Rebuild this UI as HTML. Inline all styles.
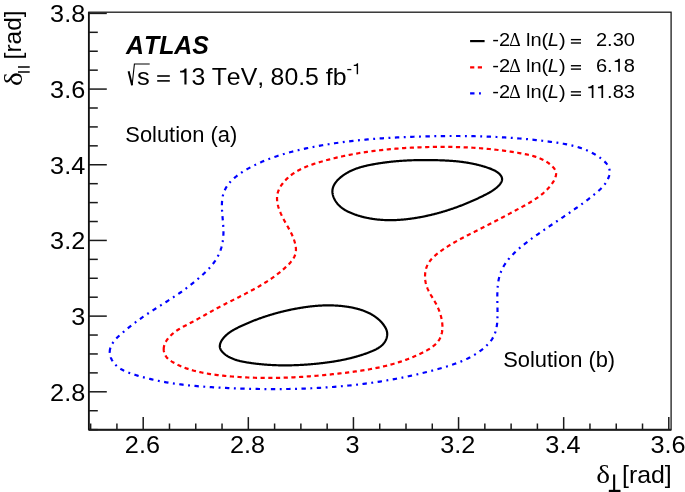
<!DOCTYPE html>
<html><head><meta charset="utf-8"><style>
html,body{margin:0;padding:0;background:#fff;width:685px;height:492px;overflow:hidden}
svg{display:block;will-change:transform}
text{font-family:"Liberation Sans",sans-serif;fill:#000;font-kerning:none}
</style></head><body>
<svg width="685" height="492" viewBox="0 0 685 492">
<rect width="685" height="492" fill="#fff"/>
<g fill="none" stroke-linejoin="round">
<path d="M109.72,351.93 L109.87,350.01 L110.28,348.13 L110.94,346.30 L111.81,344.52 L112.88,342.78 L114.12,341.08 L115.49,339.43 L116.99,337.82 L118.57,336.26 L120.22,334.73 L121.91,333.25 L123.62,331.80 L125.31,330.39 L126.98,329.02 L128.64,327.68 L130.27,326.37 L131.90,325.09 L133.52,323.84 L135.13,322.61 L136.75,321.39 L138.37,320.20 L140.00,319.02 L141.65,317.85 L143.31,316.69 L144.99,315.54 L146.68,314.39 L148.40,313.25 L150.13,312.11 L151.87,310.98 L153.62,309.85 L155.39,308.72 L157.16,307.59 L158.93,306.46 L160.71,305.34 L162.50,304.21 L164.28,303.08 L166.06,301.95 L167.84,300.81 L169.62,299.68 L171.38,298.53 L173.14,297.39 L174.89,296.23 L176.63,295.07 L178.36,293.91 L180.06,292.73 L181.76,291.55 L183.43,290.35 L185.09,289.15 L186.73,287.93 L188.36,286.70 L189.98,285.45 L191.59,284.19 L193.19,282.90 L194.78,281.60 L196.37,280.27 L197.96,278.92 L199.55,277.54 L201.13,276.13 L202.71,274.70 L204.28,273.24 L205.82,271.75 L207.33,270.24 L208.81,268.69 L210.24,267.12 L211.62,265.52 L212.93,263.89 L214.18,262.22 L215.35,260.53 L216.44,258.81 L217.45,257.06 L218.37,255.28 L219.22,253.47 L219.98,251.63 L220.66,249.77 L221.27,247.87 L221.80,245.94 L222.25,243.99 L222.63,242.01 L222.94,240.00 L223.17,237.96 L223.34,235.89 L223.43,233.80 L223.46,231.67 L223.42,229.53 L223.33,227.36 L223.20,225.17 L223.04,222.98 L222.86,220.78 L222.66,218.57 L222.47,216.37 L222.29,214.17 L222.13,211.98 L222.01,209.81 L221.92,207.66 L221.89,205.53 L221.93,203.43 L222.04,201.36 L222.23,199.33 L222.52,197.35 L222.92,195.41 L223.44,193.52 L224.08,191.69 L224.85,189.91 L225.74,188.19 L226.74,186.52 L227.86,184.91 L229.07,183.35 L230.38,181.83 L231.77,180.37 L233.24,178.95 L234.79,177.58 L236.41,176.26 L238.08,174.97 L239.81,173.73 L241.58,172.53 L243.40,171.37 L245.24,170.24 L247.11,169.15 L249.00,168.10 L250.91,167.08 L252.81,166.10 L254.73,165.14 L256.65,164.22 L258.57,163.32 L260.50,162.45 L262.43,161.61 L264.37,160.80 L266.31,160.02 L268.25,159.26 L270.20,158.52 L272.16,157.81 L274.12,157.12 L276.08,156.45 L278.05,155.80 L280.02,155.17 L282.00,154.57 L283.98,153.98 L285.96,153.40 L287.95,152.85 L289.94,152.30 L291.93,151.78 L293.93,151.27 L295.93,150.77 L297.94,150.28 L299.95,149.80 L301.96,149.34 L303.98,148.88 L306.00,148.44 L308.02,148.00 L310.05,147.58 L312.08,147.17 L314.11,146.77 L316.14,146.37 L318.18,145.99 L320.22,145.62 L322.26,145.26 L324.31,144.90 L326.36,144.56 L328.41,144.22 L330.46,143.90 L332.52,143.58 L334.58,143.27 L336.64,142.97 L338.70,142.68 L340.76,142.40 L342.83,142.12 L344.89,141.85 L346.96,141.60 L349.03,141.35 L351.11,141.10 L353.18,140.87 L355.26,140.64 L357.33,140.42 L359.41,140.21 L361.49,140.00 L363.57,139.80 L365.66,139.61 L367.74,139.42 L369.82,139.24 L371.91,139.07 L373.99,138.90 L376.08,138.74 L378.17,138.59 L380.25,138.44 L382.34,138.30 L384.43,138.16 L386.52,138.03 L388.61,137.90 L390.70,137.78 L392.79,137.66 L394.88,137.55 L396.97,137.44 L399.05,137.34 L401.14,137.24 L403.23,137.15 L405.32,137.06 L407.41,136.98 L409.50,136.90 L411.58,136.82 L413.67,136.74 L415.76,136.67 L417.84,136.61 L419.92,136.55 L422.01,136.49 L424.09,136.43 L426.17,136.37 L428.25,136.32 L430.33,136.28 L432.41,136.23 L434.49,136.19 L436.56,136.16 L438.64,136.13 L440.72,136.10 L442.79,136.07 L444.87,136.05 L446.94,136.03 L449.01,136.02 L451.09,136.01 L453.16,136.01 L455.23,136.01 L457.30,136.01 L459.38,136.02 L461.45,136.03 L463.52,136.05 L465.59,136.07 L467.66,136.10 L469.73,136.13 L471.80,136.17 L473.87,136.21 L475.94,136.25 L478.02,136.30 L480.09,136.36 L482.16,136.42 L484.23,136.49 L486.30,136.56 L488.37,136.64 L490.44,136.72 L492.51,136.81 L494.59,136.90 L496.66,137.00 L498.73,137.11 L500.81,137.22 L502.88,137.33 L504.96,137.46 L507.03,137.59 L509.11,137.72 L511.18,137.86 L513.26,138.01 L515.34,138.16 L517.42,138.32 L519.50,138.49 L521.58,138.66 L523.66,138.84 L525.74,139.03 L527.82,139.22 L529.90,139.42 L531.99,139.63 L534.08,139.84 L536.16,140.06 L538.25,140.29 L540.34,140.52 L542.43,140.77 L544.52,141.02 L546.61,141.27 L548.71,141.54 L550.80,141.81 L552.90,142.09 L554.99,142.38 L557.09,142.69 L559.17,143.02 L561.26,143.36 L563.33,143.72 L565.40,144.11 L567.46,144.52 L569.52,144.96 L571.55,145.43 L573.58,145.93 L575.59,146.47 L577.59,147.05 L579.57,147.66 L581.53,148.31 L583.48,149.01 L585.40,149.76 L587.30,150.55 L589.18,151.39 L591.03,152.29 L592.86,153.24 L594.66,154.25 L596.43,155.32 L598.17,156.45 L599.89,157.64 L601.57,158.90 L603.19,160.23 L604.73,161.64 L606.13,163.12 L607.35,164.69 L608.36,166.34 L609.11,168.08 L609.56,169.93 L609.70,171.85 L609.54,173.83 L609.14,175.80 L608.52,177.73 L607.72,179.58 L606.76,181.37 L605.64,183.10 L604.40,184.78 L603.04,186.40 L601.57,187.97 L600.03,189.49 L598.42,190.98 L596.75,192.43 L595.06,193.84 L593.34,195.23 L591.63,196.59 L589.91,197.94 L588.20,199.26 L586.49,200.56 L584.79,201.84 L583.09,203.11 L581.38,204.36 L579.69,205.59 L577.99,206.81 L576.29,208.01 L574.60,209.20 L572.91,210.39 L571.22,211.56 L569.53,212.72 L567.84,213.88 L566.15,215.02 L564.46,216.17 L562.77,217.30 L561.09,218.44 L559.40,219.57 L557.71,220.70 L556.02,221.83 L554.34,222.96 L552.65,224.10 L550.96,225.23 L549.27,226.37 L547.58,227.52 L545.88,228.67 L544.19,229.83 L542.49,230.99 L540.79,232.17 L539.09,233.36 L537.39,234.56 L535.69,235.77 L533.98,236.99 L532.27,238.23 L530.56,239.49 L528.84,240.77 L527.13,242.06 L525.43,243.37 L523.74,244.70 L522.06,246.05 L520.41,247.42 L518.78,248.82 L517.18,250.24 L515.61,251.69 L514.08,253.16 L512.60,254.66 L511.17,256.18 L509.78,257.74 L508.45,259.32 L507.19,260.94 L505.99,262.59 L504.86,264.27 L503.80,265.98 L502.83,267.73 L501.93,269.52 L501.13,271.34 L500.41,273.20 L499.79,275.09 L499.26,277.02 L498.80,278.98 L498.42,280.98 L498.10,283.00 L497.85,285.04 L497.65,287.11 L497.51,289.19 L497.41,291.30 L497.34,293.42 L497.31,295.55 L497.31,297.69 L497.33,299.84 L497.36,302.00 L497.40,304.15 L497.44,306.31 L497.48,308.47 L497.51,310.63 L497.52,312.77 L497.52,314.91 L497.48,317.04 L497.41,319.15 L497.30,321.24 L497.12,323.31 L496.88,325.35 L496.55,327.37 L496.14,329.35 L495.63,331.29 L495.01,333.19 L494.27,335.05 L493.40,336.86 L492.39,338.62 L491.23,340.33 L489.95,341.97 L488.56,343.56 L487.08,345.09 L485.54,346.56 L483.96,347.97 L482.34,349.32 L480.69,350.61 L479.01,351.85 L477.30,353.03 L475.56,354.16 L473.79,355.24 L471.99,356.28 L470.17,357.27 L468.32,358.21 L466.46,359.12 L464.57,359.99 L462.66,360.82 L460.74,361.62 L458.80,362.39 L456.85,363.13 L454.88,363.84 L452.90,364.52 L450.91,365.19 L448.92,365.83 L446.91,366.45 L444.90,367.06 L442.89,367.65 L440.87,368.24 L438.86,368.81 L436.84,369.37 L434.82,369.92 L432.80,370.47 L430.78,371.00 L428.76,371.53 L426.74,372.04 L424.71,372.55 L422.69,373.05 L420.66,373.54 L418.63,374.02 L416.60,374.49 L414.57,374.95 L412.54,375.41 L410.51,375.85 L408.48,376.29 L406.44,376.72 L404.41,377.14 L402.37,377.55 L400.33,377.95 L398.29,378.35 L396.25,378.74 L394.21,379.12 L392.17,379.49 L390.12,379.85 L388.08,380.20 L386.03,380.55 L383.98,380.89 L381.93,381.22 L379.88,381.55 L377.82,381.86 L375.77,382.17 L373.71,382.47 L371.65,382.76 L369.59,383.05 L367.53,383.33 L365.47,383.60 L363.41,383.86 L361.34,384.12 L359.28,384.37 L357.21,384.61 L355.14,384.85 L353.07,385.08 L351.00,385.30 L348.93,385.51 L346.86,385.72 L344.79,385.92 L342.71,386.12 L340.64,386.30 L338.56,386.49 L336.49,386.66 L334.41,386.83 L332.33,386.99 L330.25,387.14 L328.17,387.29 L326.09,387.44 L324.01,387.57 L321.93,387.70 L319.85,387.83 L317.76,387.94 L315.68,388.06 L313.60,388.16 L311.51,388.26 L309.43,388.35 L307.34,388.44 L305.26,388.53 L303.17,388.60 L301.08,388.67 L299.00,388.74 L296.91,388.80 L294.82,388.85 L292.74,388.90 L290.65,388.95 L288.56,388.99 L286.47,389.02 L284.38,389.05 L282.30,389.07 L280.21,389.09 L278.12,389.10 L276.03,389.11 L273.95,389.11 L271.86,389.11 L269.77,389.10 L267.68,389.09 L265.60,389.07 L263.51,389.05 L261.42,389.03 L259.34,389.00 L257.25,388.96 L255.16,388.92 L253.08,388.88 L250.99,388.83 L248.91,388.78 L246.83,388.72 L244.74,388.66 L242.66,388.60 L240.58,388.53 L238.50,388.46 L236.41,388.38 L234.33,388.30 L232.25,388.22 L230.18,388.13 L228.10,388.04 L226.02,387.94 L223.94,387.84 L221.87,387.74 L219.79,387.63 L217.72,387.52 L215.65,387.41 L213.57,387.29 L211.50,387.17 L209.43,387.04 L207.36,386.91 L205.29,386.77 L203.23,386.62 L201.16,386.46 L199.09,386.30 L197.03,386.13 L194.97,385.95 L192.90,385.76 L190.84,385.57 L188.78,385.36 L186.72,385.14 L184.66,384.91 L182.60,384.67 L180.55,384.42 L178.49,384.16 L176.44,383.88 L174.38,383.59 L172.33,383.29 L170.28,382.97 L168.23,382.64 L166.18,382.30 L164.13,381.93 L162.08,381.56 L160.03,381.16 L157.99,380.75 L155.94,380.33 L153.90,379.88 L151.85,379.42 L149.81,378.94 L147.77,378.44 L145.73,377.91 L143.69,377.37 L141.65,376.81 L139.62,376.23 L137.58,375.63 L135.55,375.01 L133.51,374.36 L131.48,373.69 L129.47,372.98 L127.48,372.23 L125.53,371.42 L123.64,370.54 L121.81,369.58 L120.05,368.53 L118.38,367.38 L116.81,366.11 L115.35,364.72 L114.01,363.20 L112.81,361.53 L111.77,359.73 L110.91,357.83 L110.27,355.88 L109.86,353.90Z" stroke="#0000ff" stroke-width="2.2" stroke-dasharray="4.4 4.5 1.9 4.5"/>
<path d="M163.69,349.20 L163.80,347.51 L164.13,345.84 L164.66,344.20 L165.38,342.59 L166.26,341.01 L167.29,339.47 L168.44,337.99 L169.69,336.56 L171.04,335.19 L172.45,333.90 L173.91,332.67 L175.41,331.53 L176.91,330.47 L178.43,329.48 L179.96,328.55 L181.50,327.67 L183.05,326.83 L184.59,326.02 L186.14,325.22 L187.69,324.43 L189.23,323.63 L190.77,322.81 L192.31,321.99 L193.85,321.16 L195.38,320.32 L196.92,319.47 L198.45,318.62 L199.98,317.76 L201.52,316.90 L203.05,316.04 L204.59,315.17 L206.13,314.31 L207.67,313.44 L209.21,312.57 L210.75,311.71 L212.30,310.85 L213.86,309.99 L215.42,309.14 L216.98,308.29 L218.55,307.46 L220.12,306.62 L221.70,305.80 L223.29,304.98 L224.87,304.16 L226.46,303.35 L228.06,302.53 L229.65,301.73 L231.25,300.92 L232.85,300.12 L234.45,299.31 L236.05,298.51 L237.65,297.70 L239.24,296.90 L240.84,296.09 L242.43,295.27 L244.03,294.46 L245.62,293.64 L247.20,292.81 L248.78,291.98 L250.36,291.14 L251.93,290.30 L253.50,289.45 L255.06,288.59 L256.61,287.72 L258.16,286.84 L259.69,285.95 L261.22,285.05 L262.74,284.14 L264.26,283.22 L265.76,282.28 L267.25,281.33 L268.73,280.36 L270.20,279.38 L271.66,278.38 L273.11,277.37 L274.54,276.34 L275.96,275.30 L277.36,274.23 L278.75,273.14 L280.13,272.04 L281.49,270.91 L282.84,269.77 L284.16,268.60 L285.47,267.41 L286.77,266.20 L288.04,264.96 L289.28,263.69 L290.46,262.39 L291.58,261.05 L292.61,259.67 L293.53,258.23 L294.34,256.74 L295.00,255.20 L295.50,253.58 L295.83,251.90 L295.97,250.14 L295.92,248.32 L295.70,246.46 L295.36,244.60 L294.92,242.76 L294.40,240.98 L293.83,239.25 L293.19,237.57 L292.51,235.93 L291.79,234.32 L291.02,232.74 L290.23,231.19 L289.40,229.64 L288.55,228.11 L287.69,226.57 L286.81,225.03 L285.93,223.47 L285.04,221.89 L284.16,220.28 L283.29,218.65 L282.45,217.00 L281.63,215.33 L280.86,213.65 L280.13,211.95 L279.46,210.24 L278.85,208.52 L278.31,206.80 L277.86,205.08 L277.49,203.36 L277.22,201.64 L277.06,199.92 L277.01,198.21 L277.09,196.52 L277.29,194.83 L277.64,193.17 L278.14,191.52 L278.77,189.90 L279.54,188.30 L280.41,186.74 L281.39,185.22 L282.45,183.74 L283.58,182.32 L284.76,180.95 L285.99,179.65 L287.26,178.40 L288.57,177.21 L289.91,176.07 L291.29,174.99 L292.70,173.96 L294.15,172.98 L295.63,172.04 L297.13,171.14 L298.66,170.29 L300.21,169.48 L301.79,168.70 L303.39,167.96 L305.01,167.25 L306.65,166.58 L308.30,165.93 L309.97,165.30 L311.65,164.71 L313.34,164.13 L315.04,163.57 L316.74,163.03 L318.45,162.50 L320.17,161.99 L321.89,161.49 L323.61,161.00 L325.33,160.52 L327.06,160.05 L328.78,159.59 L330.51,159.14 L332.24,158.70 L333.97,158.27 L335.70,157.85 L337.44,157.44 L339.17,157.04 L340.91,156.65 L342.65,156.27 L344.39,155.90 L346.14,155.54 L347.88,155.18 L349.62,154.84 L351.37,154.51 L353.12,154.18 L354.87,153.86 L356.62,153.55 L358.37,153.25 L360.12,152.96 L361.88,152.68 L363.63,152.40 L365.39,152.13 L367.15,151.87 L368.91,151.62 L370.66,151.38 L372.42,151.14 L374.19,150.91 L375.95,150.69 L377.71,150.48 L379.47,150.27 L381.24,150.07 L383.00,149.88 L384.77,149.69 L386.53,149.51 L388.30,149.34 L390.07,149.18 L391.83,149.02 L393.60,148.87 L395.37,148.72 L397.14,148.58 L398.91,148.45 L400.68,148.32 L402.45,148.20 L404.21,148.08 L405.98,147.97 L407.75,147.87 L409.52,147.77 L411.29,147.68 L413.06,147.59 L414.83,147.51 L416.60,147.43 L418.37,147.35 L420.14,147.29 L421.91,147.22 L423.68,147.17 L425.45,147.11 L427.22,147.06 L428.99,147.02 L430.76,146.98 L432.53,146.95 L434.29,146.92 L436.06,146.90 L437.83,146.88 L439.60,146.87 L441.37,146.86 L443.14,146.86 L444.90,146.87 L446.67,146.88 L448.44,146.89 L450.21,146.92 L451.98,146.94 L453.74,146.98 L455.51,147.02 L457.28,147.06 L459.05,147.12 L460.82,147.18 L462.59,147.24 L464.36,147.31 L466.12,147.39 L467.89,147.47 L469.66,147.56 L471.43,147.66 L473.20,147.77 L474.97,147.88 L476.74,148.00 L478.51,148.12 L480.28,148.25 L482.06,148.39 L483.83,148.54 L485.60,148.69 L487.37,148.85 L489.14,149.02 L490.92,149.19 L492.69,149.38 L494.46,149.57 L496.24,149.76 L498.01,149.97 L499.78,150.18 L501.56,150.40 L503.34,150.63 L505.11,150.87 L506.89,151.11 L508.67,151.37 L510.44,151.63 L512.22,151.90 L514.00,152.17 L515.78,152.46 L517.56,152.75 L519.34,153.06 L521.12,153.37 L522.90,153.69 L524.67,154.03 L526.45,154.39 L528.21,154.77 L529.96,155.18 L531.70,155.63 L533.42,156.11 L535.13,156.63 L536.82,157.19 L538.48,157.80 L540.12,158.46 L541.74,159.18 L543.33,159.96 L544.88,160.80 L546.40,161.71 L547.89,162.70 L549.34,163.76 L550.75,164.89 L552.10,166.11 L553.34,167.41 L554.41,168.77 L555.26,170.19 L555.83,171.67 L556.09,173.20 L556.05,174.76 L555.75,176.35 L555.24,177.94 L554.54,179.53 L553.68,181.10 L552.72,182.65 L551.67,184.15 L550.57,185.60 L549.43,187.00 L548.24,188.34 L547.02,189.64 L545.76,190.90 L544.46,192.11 L543.12,193.29 L541.76,194.42 L540.36,195.52 L538.94,196.59 L537.49,197.63 L536.02,198.64 L534.54,199.62 L533.03,200.58 L531.50,201.52 L529.97,202.44 L528.42,203.34 L526.86,204.23 L525.29,205.11 L523.72,205.98 L522.15,206.84 L520.58,207.69 L519.00,208.55 L517.43,209.40 L515.86,210.25 L514.29,211.09 L512.73,211.94 L511.16,212.78 L509.60,213.62 L508.03,214.46 L506.47,215.29 L504.90,216.13 L503.34,216.96 L501.78,217.79 L500.21,218.61 L498.65,219.44 L497.08,220.26 L495.52,221.08 L493.95,221.89 L492.39,222.71 L490.82,223.52 L489.25,224.33 L487.68,225.14 L486.11,225.94 L484.54,226.74 L482.96,227.54 L481.39,228.34 L479.81,229.13 L478.23,229.93 L476.65,230.72 L475.07,231.51 L473.48,232.30 L471.90,233.10 L470.32,233.89 L468.74,234.70 L467.16,235.50 L465.58,236.31 L464.01,237.13 L462.44,237.96 L460.87,238.79 L459.31,239.64 L457.75,240.50 L456.19,241.36 L454.65,242.25 L453.11,243.14 L451.57,244.05 L450.04,244.98 L448.52,245.92 L447.01,246.88 L445.51,247.86 L444.02,248.86 L442.54,249.88 L441.06,250.93 L439.60,251.99 L438.16,253.09 L436.73,254.21 L435.35,255.36 L434.01,256.56 L432.72,257.80 L431.51,259.08 L430.37,260.42 L429.33,261.82 L428.39,263.28 L427.55,264.81 L426.84,266.40 L426.25,268.06 L425.78,269.77 L425.43,271.52 L425.19,273.30 L425.06,275.10 L425.04,276.90 L425.12,278.70 L425.31,280.49 L425.59,282.25 L425.98,283.97 L426.46,285.65 L427.02,287.27 L427.66,288.86 L428.38,290.41 L429.14,291.93 L429.96,293.44 L430.81,294.94 L431.70,296.43 L432.60,297.93 L433.50,299.43 L434.40,300.96 L435.30,302.51 L436.16,304.10 L437.00,305.72 L437.79,307.40 L438.54,309.12 L439.23,310.87 L439.87,312.66 L440.45,314.47 L440.96,316.29 L441.41,318.13 L441.78,319.97 L442.07,321.81 L442.28,323.65 L442.41,325.47 L442.45,327.27 L442.39,329.04 L442.23,330.78 L441.97,332.48 L441.60,334.13 L441.12,335.73 L440.53,337.27 L439.81,338.75 L438.97,340.16 L438.01,341.49 L436.95,342.76 L435.78,343.97 L434.53,345.12 L433.19,346.22 L431.79,347.27 L430.32,348.27 L428.80,349.23 L427.24,350.15 L425.65,351.04 L424.03,351.90 L422.40,352.73 L420.76,353.53 L419.11,354.32 L417.47,355.08 L415.81,355.82 L414.16,356.54 L412.49,357.25 L410.83,357.93 L409.16,358.59 L407.48,359.23 L405.80,359.85 L404.12,360.45 L402.43,361.04 L400.74,361.61 L399.04,362.16 L397.34,362.69 L395.64,363.21 L393.93,363.71 L392.23,364.19 L390.51,364.66 L388.80,365.12 L387.08,365.56 L385.36,365.98 L383.63,366.40 L381.90,366.79 L380.17,367.18 L378.44,367.55 L376.71,367.92 L374.97,368.27 L373.23,368.61 L371.49,368.93 L369.74,369.25 L368.00,369.56 L366.25,369.86 L364.50,370.15 L362.75,370.42 L361.00,370.70 L359.24,370.96 L357.49,371.22 L355.73,371.46 L353.97,371.71 L352.21,371.94 L350.45,372.17 L348.69,372.39 L346.93,372.61 L345.17,372.83 L343.40,373.04 L341.64,373.24 L339.88,373.44 L338.11,373.64 L336.35,373.84 L334.58,374.03 L332.82,374.21 L331.05,374.40 L329.29,374.58 L327.52,374.76 L325.76,374.93 L323.99,375.10 L322.22,375.26 L320.46,375.42 L318.69,375.58 L316.92,375.73 L315.16,375.88 L313.39,376.02 L311.62,376.16 L309.85,376.29 L308.08,376.42 L306.31,376.55 L304.54,376.67 L302.78,376.78 L301.01,376.89 L299.24,377.00 L297.47,377.10 L295.70,377.19 L293.93,377.28 L292.15,377.36 L290.38,377.44 L288.61,377.51 L286.84,377.58 L285.07,377.64 L283.30,377.70 L281.53,377.75 L279.75,377.79 L277.98,377.83 L276.21,377.86 L274.44,377.89 L272.66,377.91 L270.89,377.92 L269.12,377.93 L267.34,377.93 L265.57,377.93 L263.80,377.91 L262.02,377.89 L260.25,377.87 L258.48,377.84 L256.70,377.80 L254.93,377.75 L253.15,377.70 L251.38,377.64 L249.60,377.57 L247.83,377.49 L246.05,377.41 L244.28,377.32 L242.50,377.23 L240.72,377.12 L238.95,377.01 L237.17,376.89 L235.40,376.76 L233.62,376.63 L231.84,376.48 L230.07,376.33 L228.29,376.17 L226.51,376.00 L224.74,375.83 L222.96,375.64 L221.18,375.45 L219.41,375.25 L217.63,375.04 L215.85,374.82 L214.08,374.59 L212.31,374.34 L210.54,374.08 L208.77,373.81 L207.00,373.52 L205.25,373.21 L203.49,372.89 L201.74,372.54 L200.00,372.17 L198.26,371.78 L196.53,371.37 L194.81,370.94 L193.10,370.47 L191.40,369.99 L189.70,369.47 L188.02,368.92 L186.34,368.35 L184.68,367.74 L183.03,367.10 L181.39,366.42 L179.77,365.71 L178.15,364.96 L176.56,364.18 L174.97,363.36 L173.41,362.49 L171.86,361.59 L170.36,360.62 L168.95,359.57 L167.65,358.41 L166.49,357.14 L165.52,355.72 L164.74,354.19 L164.17,352.57 L163.81,350.90Z" stroke="#ff0000" stroke-width="2.2" stroke-dasharray="4.2 3.5"/>
<path d="M332.40,191.09 L332.43,190.48 L332.48,189.88 L332.57,189.28 L332.69,188.69 L332.83,188.11 L333.00,187.53 L333.19,186.96 L333.41,186.39 L333.65,185.84 L333.92,185.28 L334.20,184.73 L334.51,184.19 L334.84,183.66 L335.19,183.13 L335.55,182.61 L335.94,182.10 L336.34,181.59 L336.75,181.10 L337.18,180.60 L337.63,180.12 L338.09,179.64 L338.56,179.18 L339.05,178.72 L339.54,178.26 L340.05,177.82 L340.56,177.38 L341.08,176.95 L341.61,176.53 L342.15,176.12 L342.69,175.72 L343.24,175.33 L343.79,174.94 L344.35,174.57 L344.90,174.20 L345.46,173.84 L346.02,173.50 L346.59,173.16 L347.15,172.83 L347.72,172.50 L348.28,172.19 L348.85,171.88 L349.42,171.59 L349.99,171.30 L350.57,171.01 L351.14,170.74 L351.72,170.47 L352.30,170.21 L352.88,169.96 L353.46,169.71 L354.04,169.48 L354.62,169.24 L355.21,169.02 L355.79,168.80 L356.38,168.58 L356.97,168.37 L357.56,168.17 L358.15,167.97 L358.74,167.78 L359.34,167.59 L359.93,167.41 L360.53,167.23 L361.13,167.06 L361.73,166.89 L362.33,166.73 L362.93,166.57 L363.53,166.41 L364.13,166.26 L364.74,166.11 L365.34,165.97 L365.95,165.83 L366.56,165.69 L367.16,165.55 L367.77,165.42 L368.38,165.29 L368.99,165.16 L369.61,165.03 L370.22,164.91 L370.83,164.79 L371.45,164.67 L372.07,164.55 L372.68,164.43 L373.30,164.32 L373.92,164.20 L374.54,164.09 L375.16,163.98 L375.78,163.88 L376.40,163.77 L377.02,163.66 L377.64,163.56 L378.27,163.46 L378.89,163.36 L379.52,163.26 L380.14,163.17 L380.77,163.07 L381.40,162.98 L382.02,162.89 L382.65,162.80 L383.28,162.71 L383.91,162.62 L384.54,162.54 L385.17,162.45 L385.80,162.37 L386.44,162.29 L387.07,162.21 L387.70,162.14 L388.33,162.06 L388.97,161.99 L389.60,161.91 L390.24,161.84 L390.87,161.77 L391.51,161.71 L392.14,161.64 L392.78,161.57 L393.42,161.51 L394.05,161.45 L394.69,161.39 L395.33,161.33 L395.97,161.27 L396.61,161.21 L397.25,161.16 L397.89,161.11 L398.52,161.05 L399.16,161.00 L399.80,160.95 L400.44,160.91 L401.08,160.86 L401.73,160.81 L402.37,160.77 L403.01,160.73 L403.65,160.69 L404.29,160.65 L404.93,160.61 L405.57,160.57 L406.21,160.54 L406.86,160.50 L407.50,160.47 L408.14,160.44 L408.78,160.41 L409.42,160.38 L410.07,160.35 L410.71,160.32 L411.35,160.30 L411.99,160.27 L412.63,160.25 L413.27,160.23 L413.92,160.21 L414.56,160.19 L415.20,160.17 L415.84,160.15 L416.48,160.13 L417.12,160.12 L417.77,160.11 L418.41,160.09 L419.05,160.08 L419.69,160.07 L420.33,160.06 L420.97,160.05 L421.61,160.05 L422.25,160.04 L422.89,160.04 L423.53,160.03 L424.16,160.03 L424.80,160.03 L425.44,160.03 L426.08,160.03 L426.72,160.03 L427.35,160.03 L427.99,160.04 L428.63,160.04 L429.26,160.05 L429.90,160.05 L430.53,160.06 L431.17,160.07 L431.80,160.08 L432.44,160.09 L433.07,160.10 L433.70,160.11 L434.34,160.13 L434.97,160.14 L435.60,160.16 L436.23,160.17 L436.86,160.19 L437.49,160.21 L438.12,160.23 L438.75,160.25 L439.37,160.27 L440.00,160.29 L440.63,160.31 L441.25,160.34 L441.88,160.36 L442.50,160.38 L443.13,160.41 L443.75,160.44 L444.37,160.47 L444.99,160.50 L445.62,160.53 L446.24,160.56 L446.86,160.59 L447.48,160.62 L448.10,160.66 L448.72,160.70 L449.34,160.74 L449.96,160.78 L450.57,160.82 L451.19,160.86 L451.81,160.90 L452.43,160.95 L453.05,161.00 L453.67,161.05 L454.28,161.10 L454.90,161.15 L455.52,161.21 L456.14,161.27 L456.75,161.33 L457.37,161.39 L457.99,161.45 L458.61,161.52 L459.23,161.59 L459.84,161.66 L460.46,161.73 L461.08,161.80 L461.70,161.88 L462.32,161.96 L462.94,162.04 L463.56,162.13 L464.18,162.22 L464.80,162.31 L465.42,162.40 L466.04,162.49 L466.66,162.59 L467.28,162.69 L467.91,162.80 L468.53,162.90 L469.15,163.01 L469.78,163.13 L470.40,163.24 L471.03,163.36 L471.66,163.49 L472.28,163.61 L472.91,163.74 L473.54,163.87 L474.17,164.01 L474.80,164.15 L475.43,164.29 L476.06,164.43 L476.70,164.58 L477.33,164.74 L477.97,164.89 L478.60,165.05 L479.24,165.22 L479.88,165.39 L480.52,165.56 L481.16,165.73 L481.80,165.91 L482.44,166.10 L483.08,166.28 L483.73,166.47 L484.38,166.67 L485.02,166.87 L485.67,167.07 L486.32,167.28 L486.97,167.50 L487.63,167.71 L488.28,167.94 L488.93,168.16 L489.57,168.40 L490.21,168.64 L490.85,168.88 L491.48,169.14 L492.11,169.40 L492.73,169.67 L493.33,169.95 L493.93,170.23 L494.52,170.53 L495.09,170.83 L495.66,171.15 L496.20,171.47 L496.74,171.81 L497.25,172.16 L497.75,172.51 L498.23,172.88 L498.69,173.27 L499.13,173.66 L499.55,174.07 L499.94,174.49 L500.32,174.93 L500.66,175.38 L500.98,175.84 L501.26,176.31 L501.51,176.78 L501.72,177.27 L501.88,177.76 L502.00,178.26 L502.07,178.75 L502.09,179.25 L502.06,179.75 L501.99,180.25 L501.87,180.75 L501.70,181.25 L501.50,181.75 L501.27,182.25 L500.99,182.74 L500.69,183.23 L500.35,183.72 L499.99,184.20 L499.60,184.68 L499.18,185.15 L498.75,185.62 L498.30,186.07 L497.83,186.53 L497.34,186.97 L496.85,187.41 L496.34,187.84 L495.83,188.25 L495.31,188.66 L494.79,189.06 L494.26,189.45 L493.73,189.83 L493.20,190.20 L492.66,190.57 L492.11,190.93 L491.56,191.27 L491.01,191.62 L490.46,191.95 L489.90,192.28 L489.34,192.61 L488.78,192.93 L488.21,193.24 L487.65,193.55 L487.08,193.85 L486.51,194.15 L485.94,194.45 L485.36,194.75 L484.79,195.04 L484.21,195.33 L483.63,195.61 L483.06,195.90 L482.48,196.18 L481.90,196.46 L481.32,196.75 L480.75,197.03 L480.17,197.30 L479.59,197.58 L479.01,197.85 L478.43,198.13 L477.85,198.40 L477.27,198.67 L476.69,198.94 L476.10,199.21 L475.52,199.47 L474.94,199.74 L474.36,200.00 L473.77,200.26 L473.19,200.52 L472.61,200.78 L472.02,201.04 L471.44,201.30 L470.85,201.55 L470.27,201.80 L469.68,202.06 L469.10,202.30 L468.51,202.55 L467.92,202.80 L467.33,203.04 L466.75,203.29 L466.16,203.53 L465.57,203.77 L464.98,204.01 L464.39,204.25 L463.80,204.48 L463.21,204.72 L462.62,204.95 L462.03,205.18 L461.44,205.41 L460.84,205.64 L460.25,205.87 L459.66,206.09 L459.07,206.32 L458.47,206.54 L457.88,206.76 L457.28,206.98 L456.69,207.19 L456.09,207.41 L455.50,207.62 L454.90,207.84 L454.30,208.05 L453.71,208.26 L453.11,208.46 L452.51,208.67 L451.91,208.87 L451.31,209.08 L450.71,209.28 L450.11,209.48 L449.51,209.67 L448.91,209.87 L448.31,210.06 L447.71,210.26 L447.11,210.45 L446.50,210.64 L445.90,210.83 L445.30,211.01 L444.69,211.20 L444.09,211.38 L443.48,211.56 L442.88,211.74 L442.27,211.92 L441.66,212.10 L441.06,212.27 L440.45,212.44 L439.84,212.62 L439.23,212.79 L438.62,212.95 L438.02,213.12 L437.41,213.28 L436.80,213.45 L436.18,213.61 L435.57,213.77 L434.96,213.93 L434.35,214.08 L433.74,214.24 L433.12,214.39 L432.51,214.54 L431.89,214.69 L431.28,214.84 L430.66,214.98 L430.05,215.13 L429.43,215.27 L428.82,215.41 L428.20,215.55 L427.58,215.69 L426.96,215.82 L426.34,215.95 L425.72,216.09 L425.10,216.22 L424.48,216.35 L423.86,216.47 L423.24,216.60 L422.62,216.72 L422.00,216.84 L421.37,216.96 L420.75,217.08 L420.13,217.19 L419.50,217.31 L418.88,217.42 L418.25,217.53 L417.63,217.64 L417.00,217.75 L416.37,217.85 L415.75,217.95 L415.12,218.05 L414.49,218.15 L413.86,218.25 L413.23,218.35 L412.60,218.44 L411.97,218.53 L411.34,218.62 L410.71,218.70 L410.08,218.79 L409.45,218.87 L408.82,218.95 L408.19,219.03 L407.55,219.10 L406.92,219.17 L406.29,219.24 L405.66,219.31 L405.02,219.38 L404.39,219.44 L403.76,219.50 L403.12,219.56 L402.49,219.61 L401.86,219.67 L401.22,219.72 L400.59,219.77 L399.95,219.81 L399.32,219.85 L398.68,219.89 L398.05,219.93 L397.42,219.97 L396.78,220.00 L396.15,220.03 L395.51,220.05 L394.88,220.08 L394.24,220.10 L393.61,220.12 L392.97,220.13 L392.34,220.14 L391.70,220.15 L391.07,220.16 L390.43,220.16 L389.80,220.16 L389.17,220.16 L388.53,220.15 L387.90,220.14 L387.26,220.13 L386.63,220.11 L386.00,220.09 L385.36,220.07 L384.73,220.05 L384.10,220.02 L383.46,219.99 L382.83,219.95 L382.20,219.91 L381.57,219.87 L380.93,219.82 L380.30,219.77 L379.67,219.72 L379.04,219.67 L378.41,219.61 L377.78,219.54 L377.15,219.48 L376.52,219.41 L375.89,219.33 L375.26,219.26 L374.64,219.18 L374.01,219.09 L373.38,219.00 L372.75,218.91 L372.13,218.81 L371.50,218.71 L370.87,218.61 L370.25,218.50 L369.63,218.39 L369.00,218.28 L368.38,218.16 L367.75,218.03 L367.13,217.91 L366.51,217.77 L365.89,217.64 L365.27,217.50 L364.65,217.36 L364.03,217.21 L363.41,217.06 L362.79,216.90 L362.17,216.74 L361.56,216.58 L360.94,216.41 L360.33,216.23 L359.71,216.06 L359.10,215.88 L358.48,215.69 L357.87,215.50 L357.26,215.30 L356.65,215.11 L356.04,214.90 L355.43,214.69 L354.82,214.48 L354.21,214.26 L353.61,214.04 L353.00,213.81 L352.40,213.58 L351.80,213.34 L351.21,213.10 L350.61,212.85 L350.02,212.59 L349.44,212.32 L348.85,212.05 L348.27,211.78 L347.70,211.49 L347.13,211.20 L346.57,210.90 L346.01,210.59 L345.45,210.27 L344.91,209.95 L344.37,209.61 L343.83,209.27 L343.31,208.92 L342.79,208.56 L342.28,208.19 L341.77,207.81 L341.28,207.42 L340.79,207.02 L340.31,206.61 L339.84,206.19 L339.38,205.75 L338.93,205.31 L338.49,204.86 L338.06,204.39 L337.64,203.91 L337.23,203.42 L336.84,202.92 L336.45,202.40 L336.08,201.88 L335.72,201.34 L335.37,200.78 L335.04,200.22 L334.72,199.64 L334.41,199.06 L334.13,198.47 L333.86,197.87 L333.61,197.26 L333.38,196.65 L333.17,196.03 L332.99,195.41 L332.83,194.79 L332.69,194.17 L332.58,193.55 L332.49,192.93 L332.43,192.31 L332.40,191.70Z" stroke="#000" stroke-width="2.2"/>
<path d="M219.93,347.54 L219.84,347.00 L219.80,346.44 L219.81,345.88 L219.86,345.31 L219.95,344.74 L220.08,344.16 L220.24,343.58 L220.44,343.00 L220.68,342.43 L220.94,341.86 L221.23,341.29 L221.55,340.73 L221.89,340.17 L222.25,339.63 L222.64,339.09 L223.04,338.56 L223.46,338.03 L223.90,337.52 L224.35,337.02 L224.81,336.53 L225.28,336.05 L225.76,335.59 L226.24,335.14 L226.73,334.70 L227.23,334.27 L227.73,333.86 L228.23,333.45 L228.74,333.06 L229.26,332.68 L229.77,332.31 L230.29,331.95 L230.82,331.60 L231.35,331.26 L231.88,330.92 L232.42,330.59 L232.95,330.27 L233.50,329.96 L234.04,329.65 L234.59,329.35 L235.14,329.05 L235.69,328.76 L236.24,328.48 L236.80,328.19 L237.35,327.91 L237.91,327.63 L238.47,327.36 L239.03,327.09 L239.60,326.81 L240.16,326.54 L240.72,326.28 L241.29,326.01 L241.86,325.74 L242.42,325.48 L242.99,325.22 L243.56,324.96 L244.13,324.70 L244.70,324.44 L245.28,324.19 L245.85,323.94 L246.43,323.68 L247.00,323.43 L247.58,323.19 L248.16,322.94 L248.73,322.69 L249.31,322.45 L249.89,322.21 L250.48,321.97 L251.06,321.73 L251.64,321.49 L252.22,321.26 L252.81,321.03 L253.40,320.79 L253.98,320.56 L254.57,320.34 L255.16,320.11 L255.75,319.88 L256.34,319.66 L256.93,319.44 L257.52,319.22 L258.11,319.00 L258.70,318.78 L259.30,318.57 L259.89,318.35 L260.48,318.14 L261.08,317.93 L261.68,317.72 L262.27,317.52 L262.87,317.31 L263.47,317.11 L264.07,316.91 L264.67,316.71 L265.27,316.51 L265.87,316.31 L266.47,316.12 L267.07,315.92 L267.67,315.73 L268.28,315.54 L268.88,315.35 L269.48,315.16 L270.09,314.98 L270.69,314.79 L271.30,314.61 L271.90,314.43 L272.51,314.25 L273.12,314.08 L273.72,313.90 L274.33,313.73 L274.94,313.56 L275.55,313.39 L276.16,313.22 L276.77,313.05 L277.38,312.88 L277.99,312.72 L278.60,312.56 L279.21,312.40 L279.82,312.24 L280.43,312.08 L281.04,311.93 L281.65,311.77 L282.26,311.62 L282.88,311.47 L283.49,311.32 L284.10,311.18 L284.72,311.03 L285.33,310.89 L285.94,310.74 L286.56,310.60 L287.17,310.47 L287.78,310.33 L288.40,310.19 L289.01,310.06 L289.63,309.93 L290.24,309.80 L290.86,309.67 L291.47,309.54 L292.09,309.41 L292.70,309.29 L293.32,309.17 L293.93,309.05 L294.55,308.93 L295.16,308.81 L295.78,308.70 L296.39,308.58 L297.01,308.47 L297.63,308.36 L298.24,308.25 L298.86,308.14 L299.47,308.04 L300.09,307.93 L300.70,307.83 L301.32,307.73 L301.93,307.63 L302.55,307.54 L303.16,307.44 L303.78,307.35 L304.39,307.26 L305.01,307.17 L305.62,307.08 L306.23,306.99 L306.85,306.91 L307.46,306.82 L308.08,306.74 L308.69,306.67 L309.31,306.59 L309.92,306.52 L310.54,306.44 L311.15,306.37 L311.77,306.31 L312.39,306.24 L313.00,306.18 L313.62,306.11 L314.23,306.06 L314.85,306.00 L315.47,305.94 L316.08,305.89 L316.70,305.84 L317.31,305.79 L317.93,305.75 L318.55,305.70 L319.17,305.66 L319.78,305.63 L320.40,305.59 L321.02,305.56 L321.64,305.53 L322.26,305.50 L322.87,305.47 L323.49,305.45 L324.11,305.43 L324.73,305.41 L325.35,305.40 L325.97,305.38 L326.59,305.37 L327.21,305.37 L327.84,305.36 L328.46,305.36 L329.08,305.36 L329.70,305.37 L330.33,305.38 L330.95,305.39 L331.57,305.40 L332.20,305.41 L332.82,305.43 L333.45,305.46 L334.07,305.48 L334.70,305.51 L335.32,305.54 L335.95,305.57 L336.58,305.61 L337.20,305.65 L337.83,305.70 L338.46,305.74 L339.09,305.79 L339.72,305.85 L340.35,305.90 L340.98,305.96 L341.61,306.03 L342.25,306.09 L342.88,306.16 L343.51,306.24 L344.15,306.31 L344.78,306.39 L345.41,306.48 L346.05,306.57 L346.69,306.66 L347.32,306.75 L347.96,306.85 L348.60,306.95 L349.23,307.06 L349.87,307.17 L350.50,307.28 L351.14,307.40 L351.78,307.52 L352.41,307.65 L353.04,307.78 L353.68,307.92 L354.31,308.06 L354.94,308.20 L355.57,308.35 L356.19,308.51 L356.82,308.67 L357.44,308.83 L358.07,309.00 L358.69,309.17 L359.30,309.35 L359.92,309.54 L360.53,309.73 L361.15,309.92 L361.75,310.12 L362.36,310.33 L362.96,310.54 L363.56,310.76 L364.16,310.98 L364.76,311.21 L365.35,311.45 L365.93,311.69 L366.52,311.94 L367.10,312.19 L367.67,312.45 L368.25,312.71 L368.81,312.99 L369.38,313.26 L369.94,313.55 L370.49,313.84 L371.04,314.14 L371.59,314.44 L372.13,314.76 L372.67,315.08 L373.20,315.40 L373.72,315.73 L374.24,316.07 L374.76,316.42 L375.27,316.78 L375.77,317.14 L376.27,317.51 L376.76,317.88 L377.25,318.27 L377.73,318.66 L378.20,319.06 L378.67,319.47 L379.13,319.88 L379.58,320.31 L380.03,320.74 L380.47,321.18 L380.90,321.63 L381.32,322.08 L381.74,322.55 L382.15,323.02 L382.55,323.50 L382.95,323.99 L383.34,324.49 L383.72,325.00 L384.08,325.51 L384.44,326.04 L384.78,326.57 L385.11,327.11 L385.42,327.65 L385.71,328.21 L385.98,328.77 L386.23,329.34 L386.45,329.91 L386.65,330.49 L386.82,331.08 L386.97,331.67 L387.08,332.27 L387.16,332.87 L387.20,333.48 L387.22,334.09 L387.20,334.70 L387.15,335.31 L387.08,335.92 L386.98,336.53 L386.85,337.13 L386.70,337.73 L386.52,338.32 L386.32,338.90 L386.09,339.47 L385.85,340.03 L385.58,340.58 L385.30,341.11 L384.99,341.63 L384.67,342.13 L384.33,342.62 L383.97,343.09 L383.60,343.56 L383.21,344.00 L382.80,344.44 L382.38,344.87 L381.95,345.28 L381.50,345.68 L381.04,346.07 L380.57,346.45 L380.08,346.82 L379.58,347.18 L379.08,347.53 L378.56,347.87 L378.03,348.20 L377.49,348.52 L376.94,348.83 L376.39,349.14 L375.82,349.44 L375.25,349.73 L374.68,350.01 L374.09,350.29 L373.51,350.56 L372.91,350.82 L372.32,351.08 L371.71,351.33 L371.11,351.58 L370.50,351.83 L369.89,352.07 L369.28,352.30 L368.67,352.53 L368.06,352.76 L367.44,352.99 L366.83,353.21 L366.22,353.43 L365.60,353.65 L364.99,353.87 L364.38,354.08 L363.76,354.29 L363.15,354.49 L362.53,354.70 L361.92,354.90 L361.31,355.10 L360.69,355.29 L360.08,355.48 L359.46,355.67 L358.85,355.86 L358.23,356.04 L357.62,356.23 L357.00,356.41 L356.39,356.58 L355.77,356.76 L355.16,356.93 L354.54,357.10 L353.92,357.26 L353.31,357.43 L352.69,357.59 L352.08,357.75 L351.46,357.91 L350.84,358.06 L350.23,358.21 L349.61,358.36 L348.99,358.51 L348.38,358.66 L347.76,358.80 L347.14,358.94 L346.53,359.08 L345.91,359.22 L345.29,359.35 L344.68,359.49 L344.06,359.62 L343.44,359.75 L342.83,359.87 L342.21,360.00 L341.59,360.12 L340.97,360.24 L340.36,360.36 L339.74,360.48 L339.12,360.59 L338.51,360.70 L337.89,360.82 L337.27,360.93 L336.65,361.03 L336.04,361.14 L335.42,361.24 L334.80,361.35 L334.18,361.45 L333.57,361.55 L332.95,361.64 L332.33,361.74 L331.71,361.83 L331.10,361.92 L330.48,362.02 L329.86,362.11 L329.25,362.19 L328.63,362.28 L328.01,362.36 L327.39,362.45 L326.78,362.53 L326.16,362.61 L325.54,362.69 L324.92,362.77 L324.31,362.84 L323.69,362.92 L323.07,362.99 L322.46,363.07 L321.84,363.14 L321.22,363.21 L320.61,363.28 L319.99,363.35 L319.37,363.41 L318.76,363.48 L318.14,363.54 L317.52,363.61 L316.91,363.67 L316.29,363.73 L315.67,363.79 L315.06,363.85 L314.44,363.91 L313.83,363.97 L313.21,364.02 L312.59,364.08 L311.98,364.13 L311.36,364.19 L310.75,364.24 L310.13,364.29 L309.52,364.34 L308.90,364.39 L308.28,364.44 L307.67,364.49 L307.05,364.53 L306.44,364.58 L305.82,364.62 L305.20,364.66 L304.59,364.70 L303.97,364.74 L303.36,364.78 L302.74,364.82 L302.12,364.86 L301.51,364.89 L300.89,364.93 L300.27,364.96 L299.66,364.99 L299.04,365.02 L298.42,365.05 L297.81,365.08 L297.19,365.11 L296.57,365.13 L295.95,365.16 L295.34,365.18 L294.72,365.20 L294.10,365.22 L293.48,365.24 L292.86,365.26 L292.24,365.27 L291.62,365.29 L291.01,365.30 L290.39,365.32 L289.77,365.33 L289.15,365.34 L288.53,365.34 L287.90,365.35 L287.28,365.36 L286.66,365.36 L286.04,365.36 L285.42,365.36 L284.80,365.36 L284.17,365.36 L283.55,365.36 L282.93,365.35 L282.31,365.35 L281.68,365.34 L281.06,365.33 L280.43,365.32 L279.81,365.31 L279.18,365.30 L278.56,365.28 L277.93,365.26 L277.30,365.25 L276.68,365.23 L276.05,365.20 L275.42,365.18 L274.79,365.16 L274.17,365.13 L273.54,365.10 L272.91,365.07 L272.28,365.04 L271.65,365.01 L271.02,364.98 L270.38,364.94 L269.75,364.90 L269.12,364.86 L268.49,364.82 L267.85,364.78 L267.22,364.74 L266.58,364.69 L265.95,364.64 L265.31,364.59 L264.68,364.54 L264.04,364.49 L263.40,364.43 L262.76,364.38 L262.12,364.32 L261.49,364.26 L260.85,364.20 L260.20,364.13 L259.56,364.07 L258.92,364.00 L258.28,363.93 L257.64,363.86 L256.99,363.79 L256.35,363.72 L255.70,363.64 L255.06,363.56 L254.41,363.48 L253.76,363.40 L253.11,363.32 L252.47,363.23 L251.82,363.14 L251.17,363.05 L250.52,362.96 L249.86,362.87 L249.21,362.77 L248.56,362.67 L247.91,362.57 L247.26,362.47 L246.60,362.36 L245.95,362.25 L245.30,362.14 L244.65,362.02 L244.01,361.90 L243.36,361.78 L242.72,361.65 L242.08,361.52 L241.44,361.38 L240.80,361.23 L240.17,361.09 L239.54,360.93 L238.91,360.77 L238.29,360.61 L237.67,360.44 L237.05,360.26 L236.44,360.08 L235.84,359.89 L235.23,359.69 L234.64,359.49 L234.05,359.28 L233.46,359.06 L232.88,358.83 L232.31,358.60 L231.74,358.36 L231.18,358.11 L230.62,357.85 L230.08,357.58 L229.54,357.31 L229.00,357.02 L228.48,356.73 L227.96,356.42 L227.45,356.11 L226.95,355.79 L226.46,355.45 L225.97,355.11 L225.50,354.76 L225.03,354.39 L224.58,354.02 L224.13,353.63 L223.70,353.23 L223.27,352.82 L222.86,352.40 L222.45,351.97 L222.06,351.52 L221.69,351.06 L221.34,350.59 L221.02,350.11 L220.73,349.62 L220.47,349.12 L220.25,348.60 L220.07,348.08Z" stroke="#000" stroke-width="2.2"/>
</g>
<g stroke="#1a1a1a" stroke-width="1.5" fill="none">
<rect x="88.8" y="12.2" width="582.3" height="417.6" stroke-width="1.3"/>
<line x1="88.8" y1="429.8" x2="671.1" y2="429.8" stroke-width="2"/>
<line x1="88.8" y1="12.2" x2="88.8" y2="429.8" stroke-width="1.7" stroke="#111"/>
<line x1="90.64" y1="429.80" x2="90.64" y2="423.50"/>
<line x1="116.92" y1="429.80" x2="116.92" y2="423.50"/>
<line x1="143.20" y1="429.80" x2="143.20" y2="417.10"/>
<line x1="169.48" y1="429.80" x2="169.48" y2="423.50"/>
<line x1="195.76" y1="429.80" x2="195.76" y2="423.50"/>
<line x1="222.04" y1="429.80" x2="222.04" y2="423.50"/>
<line x1="248.32" y1="429.80" x2="248.32" y2="417.10"/>
<line x1="274.60" y1="429.80" x2="274.60" y2="423.50"/>
<line x1="300.88" y1="429.80" x2="300.88" y2="423.50"/>
<line x1="327.16" y1="429.80" x2="327.16" y2="423.50"/>
<line x1="353.44" y1="429.80" x2="353.44" y2="417.10"/>
<line x1="379.72" y1="429.80" x2="379.72" y2="423.50"/>
<line x1="406.00" y1="429.80" x2="406.00" y2="423.50"/>
<line x1="432.28" y1="429.80" x2="432.28" y2="423.50"/>
<line x1="458.56" y1="429.80" x2="458.56" y2="417.10"/>
<line x1="484.84" y1="429.80" x2="484.84" y2="423.50"/>
<line x1="511.12" y1="429.80" x2="511.12" y2="423.50"/>
<line x1="537.40" y1="429.80" x2="537.40" y2="423.50"/>
<line x1="563.68" y1="429.80" x2="563.68" y2="417.10"/>
<line x1="589.96" y1="429.80" x2="589.96" y2="423.50"/>
<line x1="616.24" y1="429.80" x2="616.24" y2="423.50"/>
<line x1="642.52" y1="429.80" x2="642.52" y2="423.50"/>
<line x1="668.80" y1="429.80" x2="668.80" y2="417.10"/>
<line x1="88.80" y1="429.64" x2="97.80" y2="429.64"/>
<line x1="88.80" y1="410.72" x2="97.80" y2="410.72"/>
<line x1="88.80" y1="391.80" x2="106.80" y2="391.80"/>
<line x1="88.80" y1="372.88" x2="97.80" y2="372.88"/>
<line x1="88.80" y1="353.96" x2="97.80" y2="353.96"/>
<line x1="88.80" y1="335.04" x2="97.80" y2="335.04"/>
<line x1="88.80" y1="316.12" x2="106.80" y2="316.12"/>
<line x1="88.80" y1="297.20" x2="97.80" y2="297.20"/>
<line x1="88.80" y1="278.28" x2="97.80" y2="278.28"/>
<line x1="88.80" y1="259.36" x2="97.80" y2="259.36"/>
<line x1="88.80" y1="240.44" x2="106.80" y2="240.44"/>
<line x1="88.80" y1="221.52" x2="97.80" y2="221.52"/>
<line x1="88.80" y1="202.60" x2="97.80" y2="202.60"/>
<line x1="88.80" y1="183.68" x2="97.80" y2="183.68"/>
<line x1="88.80" y1="164.76" x2="106.80" y2="164.76"/>
<line x1="88.80" y1="145.84" x2="97.80" y2="145.84"/>
<line x1="88.80" y1="126.92" x2="97.80" y2="126.92"/>
<line x1="88.80" y1="108.00" x2="97.80" y2="108.00"/>
<line x1="88.80" y1="89.08" x2="106.80" y2="89.08"/>
<line x1="88.80" y1="70.16" x2="97.80" y2="70.16"/>
<line x1="88.80" y1="51.24" x2="97.80" y2="51.24"/>
<line x1="88.80" y1="32.32" x2="97.80" y2="32.32"/>
<line x1="88.80" y1="13.40" x2="106.80" y2="13.40"/>
</g>
<text transform="translate(142.40,452.80) scale(1.075,1)" font-size="23.50" text-anchor="middle">2.6</text><text transform="translate(247.52,452.80) scale(1.075,1)" font-size="23.50" text-anchor="middle">2.8</text><text transform="translate(352.64,452.80) scale(1.075,1)" font-size="23.50" text-anchor="middle">3</text><text transform="translate(457.76,452.80) scale(1.075,1)" font-size="23.50" text-anchor="middle">3.2</text><text transform="translate(562.88,452.80) scale(1.075,1)" font-size="23.50" text-anchor="middle">3.4</text><text transform="translate(668.00,452.80) scale(1.075,1)" font-size="23.50" text-anchor="middle">3.6</text>
<text transform="translate(85.20,400.70) scale(1.075,1)" font-size="23.50" text-anchor="end">2.8</text><text transform="translate(85.20,325.02) scale(1.075,1)" font-size="23.50" text-anchor="end">3</text><text transform="translate(85.20,249.34) scale(1.075,1)" font-size="23.50" text-anchor="end">3.2</text><text transform="translate(85.20,173.66) scale(1.075,1)" font-size="23.50" text-anchor="end">3.4</text><text transform="translate(85.20,97.98) scale(1.075,1)" font-size="23.50" text-anchor="end">3.6</text><text transform="translate(85.20,22.30) scale(1.075,1)" font-size="23.50" text-anchor="end">3.8</text>
<text transform="translate(126.00,53.60) scale(0.995,1)" font-size="25.00" style="font-weight:bold;font-style:italic">ATLAS</text>
<path d="M128.6,71.3 L132.1,85.3" stroke="#000" stroke-width="2" fill="none"/>
<path d="M132.1,85.3 L134.4,64.0 L149.7,64.0" stroke="#000" stroke-width="1.1" fill="none"/>
<text transform="translate(137.00,85.00) scale(1.080,1)" font-size="23.60">s</text>
<rect x="157.20" y="75.20" width="12.60" height="1.60"/><rect x="157.20" y="80.10" width="12.60" height="1.60"/>
<path transform="translate(177.60,84.60) scale(24.840,23.000)" d="M0.359,0 L0.359,-0.703 L0.29,-0.703 C0.27,-0.64 0.2,-0.605 0.101,-0.60 L0.101,-0.525 L0.274,-0.525 L0.274,0 Z" fill="#000"/><text transform="translate(191.41,84.60) scale(1.080,1)" font-size="23.00">3</text>
<text transform="translate(211.70,84.60) scale(1.080,1)" font-size="23.00">TeV,</text>
<text transform="translate(270.60,84.60) scale(1.080,1)" font-size="23.00">80.5</text>
<text transform="translate(325.80,84.60) scale(1.080,1)" font-size="23.00">fb</text>
<text transform="translate(346.50,74.30) scale(1.060,1)" font-size="15.80">-</text><path transform="translate(352.08,74.30) scale(16.748,15.800)" d="M0.359,0 L0.359,-0.703 L0.29,-0.703 C0.27,-0.64 0.2,-0.605 0.101,-0.60 L0.101,-0.525 L0.274,-0.525 L0.274,0 Z" fill="#000"/>
<text transform="translate(125.30,141.80) scale(1.028,1)" font-size="21.30">Solution (a)</text>
<text transform="translate(503.20,366.80) scale(1.028,1)" font-size="21.30">Solution (b)</text>
<g stroke-width="2.2" fill="none"><line x1="470.1" y1="41.1" x2="484.6" y2="41.1" stroke="#000"/><line x1="470.1" y1="67.4" x2="484.6" y2="67.4" stroke="#f00" stroke-dasharray="4.2 3.5"/><line x1="470.1" y1="93.3" x2="484.6" y2="93.3" stroke="#00f" stroke-dasharray="4.4 4.5 1.9 4.5"/></g>
<text transform="translate(492.20,45.70) scale(1.085,1)" font-size="18.50">-2</text>
<text transform="translate(509.20,45.70) scale(0.980,1)" font-size="18.20" style="font-family:'Liberation Serif',serif">&#916;</text>
<text transform="translate(526.00,45.70) scale(1.085,1)" font-size="18.50">ln(</text>
<text transform="translate(547.80,45.70) scale(1.085,1)" font-size="18.50" style="font-style:italic">L</text>
<text transform="translate(559.00,45.70) scale(1.085,1)" font-size="18.50">)</text>
<rect x="570.90" y="38.95" width="10.10" height="1.40"/><rect x="570.90" y="42.30" width="10.10" height="1.40"/>
<text transform="translate(595.94,45.70) scale(1.085,1)" font-size="18.50">2</text><text transform="translate(607.10,45.70) scale(1.085,1)" font-size="18.50">.</text><text transform="translate(612.68,45.70) scale(1.085,1)" font-size="18.50">3</text><text transform="translate(623.84,45.70) scale(1.085,1)" font-size="18.50">0</text>
<text transform="translate(492.20,71.80) scale(1.085,1)" font-size="18.50">-2</text>
<text transform="translate(509.20,71.80) scale(0.980,1)" font-size="18.20" style="font-family:'Liberation Serif',serif">&#916;</text>
<text transform="translate(526.00,71.80) scale(1.085,1)" font-size="18.50">ln(</text>
<text transform="translate(547.80,71.80) scale(1.085,1)" font-size="18.50" style="font-style:italic">L</text>
<text transform="translate(559.00,71.80) scale(1.085,1)" font-size="18.50">)</text>
<rect x="570.90" y="65.05" width="10.10" height="1.40"/><rect x="570.90" y="68.40" width="10.10" height="1.40"/>
<text transform="translate(595.94,71.80) scale(1.085,1)" font-size="18.50">6</text><text transform="translate(607.10,71.80) scale(1.085,1)" font-size="18.50">.</text><path transform="translate(612.68,71.80) scale(20.072,18.500)" d="M0.359,0 L0.359,-0.703 L0.29,-0.703 C0.27,-0.64 0.2,-0.605 0.101,-0.60 L0.101,-0.525 L0.274,-0.525 L0.274,0 Z" fill="#000"/><text transform="translate(623.84,71.80) scale(1.085,1)" font-size="18.50">8</text>
<text transform="translate(492.20,97.90) scale(1.085,1)" font-size="18.50">-2</text>
<text transform="translate(509.20,97.90) scale(0.980,1)" font-size="18.20" style="font-family:'Liberation Serif',serif">&#916;</text>
<text transform="translate(526.00,97.90) scale(1.085,1)" font-size="18.50">ln(</text>
<text transform="translate(547.80,97.90) scale(1.085,1)" font-size="18.50" style="font-style:italic">L</text>
<text transform="translate(559.00,97.90) scale(1.085,1)" font-size="18.50">)</text>
<rect x="570.90" y="91.15" width="10.10" height="1.40"/><rect x="570.90" y="94.50" width="10.10" height="1.40"/>
<path transform="translate(586.26,97.90) scale(20.072,18.500)" d="M0.359,0 L0.359,-0.703 L0.29,-0.703 C0.27,-0.64 0.2,-0.605 0.101,-0.60 L0.101,-0.525 L0.274,-0.525 L0.274,0 Z" fill="#000"/><path transform="translate(595.94,97.90) scale(20.072,18.500)" d="M0.359,0 L0.359,-0.703 L0.29,-0.703 C0.27,-0.64 0.2,-0.605 0.101,-0.60 L0.101,-0.525 L0.274,-0.525 L0.274,0 Z" fill="#000"/><text transform="translate(607.10,97.90) scale(1.085,1)" font-size="18.50">.</text><text transform="translate(612.68,97.90) scale(1.085,1)" font-size="18.50">8</text><text transform="translate(623.84,97.90) scale(1.085,1)" font-size="18.50">3</text>
<text transform="translate(596.20,482.80) scale(1.120,1)" font-size="26.20" style="font-family:'Liberation Serif',serif">&#948;</text>
<path d="M614.15,474.6 V491 M608.9,491.2 H620.3" stroke="#000" stroke-width="2.1" fill="none"/>
<rect x="608.9" y="489.8" width="11.4" height="3" fill="#000"/>
<text transform="translate(621.96,482.60) scale(1.055,1)" font-size="23.60">[rad]</text>
<g transform="translate(21.4,86) rotate(-90)"><text transform="translate(0.10,0.40) scale(1.120,1)" font-size="26.20" style="font-family:'Liberation Serif',serif">&#948;</text><path d="M14.1,-3.4 V8.3 M19,-3.4 V8.3" stroke="#000" stroke-width="1.5"/><text transform="translate(26.60,0.00) scale(1.040,1)" font-size="23.60">[rad]</text></g>
</svg>
</body></html>
